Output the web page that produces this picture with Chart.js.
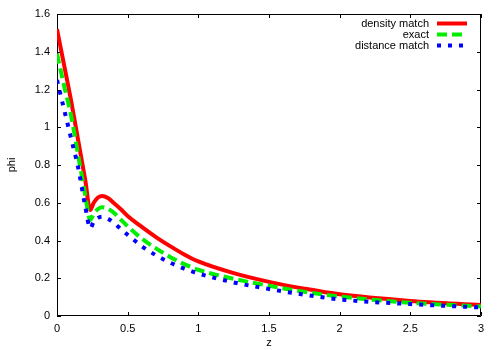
<!DOCTYPE html>
<html>
<head>
<meta charset="utf-8">
<script src="https://cdn.jsdelivr.net/npm/chart.js@4"></script>
<style>
  html, body { margin: 0; padding: 0; background: #fff; }
  #wrap { width: 500px; height: 350px; }
</style>
</head>
<body>
<div id="wrap"><canvas id="phiChart" width="500" height="350"></canvas></div>
<script>
const zValues = [0, 0.05, 0.1, 0.15, 0.2, 0.235, 0.26, 0.29, 0.32, 0.36, 0.4, 0.45, 0.5,
  0.6, 0.7, 0.8, 0.9, 1.0, 1.25, 1.5, 1.75, 2.0, 2.5, 3.0];
const densityMatch = [1.52, 1.33, 1.14, 0.93, 0.72, 0.562, 0.60, 0.628, 0.636, 0.625, 0.60, 0.567, 0.530,
  0.472, 0.418, 0.37, 0.326, 0.289, 0.227, 0.181, 0.145, 0.115, 0.08, 0.058];
const exact = [1.39, 1.22, 1.06, 0.85, 0.64, 0.509, 0.542, 0.566, 0.576, 0.568, 0.548, 0.512, 0.475,
  0.41, 0.358, 0.313, 0.275, 0.245, 0.197, 0.16, 0.128, 0.103, 0.07, 0.05];
const distanceMatch = [1.25, 1.095, 0.94, 0.785, 0.58, 0.465, 0.50, 0.52, 0.526, 0.515, 0.495, 0.462, 0.43,
  0.37, 0.322, 0.283, 0.251, 0.225, 0.178, 0.143, 0.113, 0.088, 0.063, 0.045];
const seriesLabels = ["density match", "exact", "distance match"];
const xTicks = [0, 0.5, 1, 1.5, 2, 2.5, 3];
const yTicks = [0, 0.2, 0.4, 0.6, 0.8, 1, 1.2, 1.4, 1.6];

const FONT = "'Liberation Sans', Arial, sans-serif";

function toPoints(ys) {
  return zValues.map((z, i) => ({ x: z, y: ys[i] }));
}

const styles = [
  { color: "#ff0000", dash: [] },
  { color: "#00ee00", dash: [10, 5] },
  { color: "#0000ff", dash: [4, 7] },
];

// gnuplot style box with inward ticks on all four sides
const frameBox = {
  id: "frameBox",
  beforeDatasetsDraw(chart) {
    const { ctx, chartArea: a, scales } = chart;
    ctx.save();
    ctx.strokeStyle = "#000";
    ctx.lineWidth = 1;
    ctx.beginPath();
    ctx.rect(a.left + 0.5, a.top + 0.5, a.right - a.left - 1, a.bottom - a.top - 1);
    const len = 4;
    xTicks.forEach((v) => {
      const px = Math.round(scales.x.getPixelForValue(v)) + 0.5;
      ctx.moveTo(px, a.bottom);
      ctx.lineTo(px, a.bottom - len);
      ctx.moveTo(px, a.top);
      ctx.lineTo(px, a.top + len);
    });
    yTicks.forEach((v) => {
      const py = Math.round(scales.y.getPixelForValue(v)) + 0.5;
      ctx.moveTo(a.left, py);
      ctx.lineTo(a.left + len, py);
      ctx.moveTo(a.right, py);
      ctx.lineTo(a.right - len, py);
    });
    ctx.stroke();
    ctx.restore();
  },
};

// legend at top right: text right aligned, sample line after it
const keyBox = {
  id: "keyBox",
  afterDatasetsDraw(chart) {
    const { ctx } = chart;
    ctx.save();
    ctx.font = "11px " + FONT;
    ctx.textAlign = "right";
    ctx.textBaseline = "middle";
    seriesLabels.forEach((label, i) => {
      const y = 23.5 + i * 11;
      ctx.fillStyle = "#000";
      ctx.fillText(label, 429, y);
      ctx.strokeStyle = styles[i].color;
      ctx.lineWidth = 4;
      ctx.setLineDash(styles[i].dash);
      ctx.beginPath();
      ctx.moveTo(437, y);
      ctx.lineTo(467, y);
      ctx.stroke();
    });
    ctx.restore();
  },
};

const datasets = [densityMatch, exact, distanceMatch].map((ys, i) => ({
  label: seriesLabels[i],
  data: toPoints(ys),
  borderColor: styles[i].color,
  borderDash: styles[i].dash,
  borderWidth: 4,
  pointRadius: 0,
  cubicInterpolationMode: "monotone",
  fill: false,
  order: 2 - i,
}));

new Chart(document.getElementById("phiChart"), {
  type: "line",
  data: { datasets: datasets },
  options: {
    responsive: false,
    animation: false,
    layout: { padding: { top: 14, right: 19, left: 0, bottom: 0 } },
    plugins: {
      legend: { display: false },
      tooltip: { enabled: false },
    },
    scales: {
      x: {
        type: "linear",
        min: 0,
        max: 3,
        afterBuildTicks: (scale) => {
          scale.ticks = xTicks.map((v) => ({ value: v }));
        },
        afterFit: (scale) => {
          scale.height = 34;
        },
        grid: { display: false, drawTicks: false },
        border: { display: false },
        ticks: {
          padding: 6,
          color: "#000",
          font: { family: FONT, size: 11 },
          maxRotation: 0,
          callback: (v) => String(v),
        },
        title: {
          display: true,
          text: "z",
          color: "#000",
          font: { family: FONT, size: 11 },
          padding: { top: 0, bottom: 0 },
        },
      },
      y: {
        type: "linear",
        min: 0,
        max: 1.6,
        afterBuildTicks: (scale) => {
          scale.ticks = yTicks.map((v) => ({ value: v }));
        },
        afterFit: (scale) => {
          scale.width = 57;
        },
        grid: { display: false, drawTicks: false },
        border: { display: false },
        ticks: {
          padding: 7,
          color: "#000",
          font: { family: FONT, size: 11 },
          callback: (v) => String(v),
        },
        title: {
          display: true,
          text: "phi",
          color: "#000",
          font: { family: FONT, size: 11 },
          padding: { top: 5, bottom: 0 },
        },
      },
    },
  },
  plugins: [frameBox, keyBox],
});
</script>
</body>
</html>
